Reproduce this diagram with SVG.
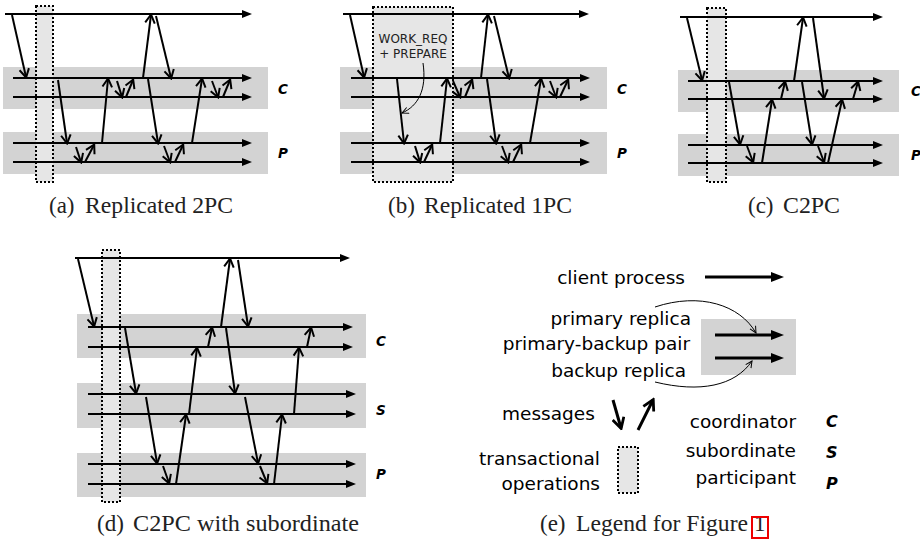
<svg xmlns="http://www.w3.org/2000/svg" width="920" height="543" viewBox="0 0 920 543">
<style>
.band{fill:#d3d3d3}
.ops{fill:#e6e6e6;stroke:#000;stroke-width:2;stroke-dasharray:2 2}
.tl{stroke:#000;stroke-width:2;fill:none;marker-end:url(#tlh)}
.msg{stroke:#000;stroke-width:2;fill:none;marker-end:url(#mh)}
.lbl{font-family:"DejaVu Sans",sans-serif;font-weight:bold;font-style:oblique;font-size:13.5px;fill:#000}
.leg{font-family:"DejaVu Sans",sans-serif;font-size:18.5px;fill:#000}
.cap{font-family:"Liberation Serif","Times New Roman",serif;font-size:23px;fill:#222}
.ann{font-family:"DejaVu Sans",sans-serif;font-size:12px;fill:#222}
.thin{stroke:#000;stroke-width:1;fill:none;marker-end:url(#th)}
.thick{stroke:#000;stroke-width:3;fill:none;marker-end:url(#bigh)}
.tmsg{stroke:#000;stroke-width:3;fill:none;marker-end:url(#bmh)}
</style>
<defs>
<marker id="tlh" viewBox="0 0 10 8" refX="4" refY="4" markerWidth="10" markerHeight="8" markerUnits="userSpaceOnUse" orient="auto"><path d="M0,0 L10,4 L0,8 z" fill="#000"/></marker>
<marker id="mh" viewBox="0 0 12 12" refX="9.5" refY="6" markerWidth="12" markerHeight="12" markerUnits="userSpaceOnUse" orient="auto"><path d="M1.5,1.2 L10,6 L1.5,10.8" fill="none" stroke="#000" stroke-width="2"/></marker>
<marker id="bmh" viewBox="0 0 14 14" refX="11.5" refY="7" markerWidth="14" markerHeight="14" markerUnits="userSpaceOnUse" orient="auto"><path d="M1.5,1.2 L12,7 L1.5,12.8" fill="none" stroke="#000" stroke-width="2.8"/></marker>
<marker id="bigh" viewBox="0 0 13 10" refX="5" refY="5" markerWidth="13" markerHeight="10" markerUnits="userSpaceOnUse" orient="auto"><path d="M0,0 L13,5 L0,10 z" fill="#000"/></marker>
<marker id="th" viewBox="0 0 8 8" refX="7" refY="4" markerWidth="8" markerHeight="8" markerUnits="userSpaceOnUse" orient="auto"><path d="M0.5,0.8 L7,4 L0.5,7.2" fill="none" stroke="#000" stroke-width="1"/></marker>
</defs>

<!-- Panel (a) -->
<g id="panel-a">
<g id="a-coordinator"><rect class="band" x="3" y="67" width="265" height="42"/><text class="lbl" x="278" y="94">C</text></g>
<g id="a-participant"><rect class="band" x="3" y="132" width="265" height="42"/><text class="lbl" x="278" y="158">P</text></g>
<g id="a-ops"><rect class="ops" x="36" y="6" width="17" height="176"/></g>
<g id="a-timelines">
<line class="tl" x1="5" y1="14" x2="246" y2="14"/>
<line class="tl" x1="13" y1="78" x2="246" y2="78"/>
<line class="tl" x1="13" y1="97" x2="246" y2="97"/>
<line class="tl" x1="13" y1="143" x2="246" y2="143"/>
<line class="tl" x1="13" y1="162" x2="246" y2="162"/>
</g>
<g id="a-messages">
<path class="msg" d="M12,15 L26,77"/>
<path class="msg" d="M58,80 L67,143"/>
<path class="msg" d="M76,147 L81,162"/>
<path class="msg" d="M85,162 L94,145"/>
<path class="msg" d="M102,143 L108,79"/>
<path class="msg" d="M117,81 L122,97"/>
<path class="msg" d="M126,97 L133,80"/>
<path class="msg" d="M143,78 L151,15"/>
<path class="msg" d="M156,16 L171,78"/>
<path class="msg" d="M148,79 L158,143"/>
<path class="msg" d="M164,146 L170,162"/>
<path class="msg" d="M175,162 L183,145"/>
<path class="msg" d="M192,143 L202,79"/>
<path class="msg" d="M212,81 L218,97"/>
<path class="msg" d="M223,97 L230,80"/>
</g>
<text class="cap" x="49" y="213">(a)</text><text class="cap" x="85" y="213" textLength="148" lengthAdjust="spacingAndGlyphs">Replicated 2PC</text>
</g>

<!-- Panel (b) -->
<g id="panel-b">
<g id="b-coordinator"><rect class="band" x="340" y="67" width="267" height="42"/><text class="lbl" x="617" y="94">C</text></g>
<g id="b-participant"><rect class="band" x="340" y="132" width="267" height="42"/><text class="lbl" x="617" y="158">P</text></g>
<g id="b-ops"><rect class="ops" x="373" y="7" width="80" height="175"/>
<text class="ann" x="413" y="43" text-anchor="middle">WORK_REQ</text>
<text class="ann" x="413" y="58" text-anchor="middle">+ PREPARE</text></g>
<g id="b-timelines">
<line class="tl" x1="343" y1="14" x2="583" y2="14"/>
<line class="tl" x1="351" y1="78" x2="584" y2="78"/>
<line class="tl" x1="351" y1="97" x2="584" y2="97"/>
<line class="tl" x1="351" y1="143" x2="584" y2="143"/>
<line class="tl" x1="351" y1="162" x2="584" y2="162"/>
</g>
<g id="b-messages">
<path class="msg" d="M350,15 L364,77"/>
<path class="msg" d="M397,79 L404,143"/>
<path class="msg" d="M415,146 L420,162"/>
<path class="msg" d="M424,162 L432,145"/>
<path class="msg" d="M440,143 L447,79"/>
<path class="msg" d="M453,81 L460,97"/>
<path class="msg" d="M465,97 L472,80"/>
<path class="msg" d="M481,78 L488,15"/>
<path class="msg" d="M494,16 L509,78"/>
<path class="msg" d="M487,79 L496,143"/>
<path class="msg" d="M502,146 L508,162"/>
<path class="msg" d="M513,162 L521,145"/>
<path class="msg" d="M530,143 L541,79"/>
<path class="msg" d="M550,81 L556,97"/>
<path class="msg" d="M560,97 L568,80"/>
<path class="thin" d="M423,63 C427,90 418,106 402,113"/>
</g>
<text class="cap" x="388" y="213">(b)</text><text class="cap" x="424" y="213" textLength="148" lengthAdjust="spacingAndGlyphs">Replicated 1PC</text>
</g>

<!-- Panel (c) -->
<g id="panel-c">
<g id="c-coordinator"><rect class="band" x="678" y="70" width="221" height="42"/><text class="lbl" x="911" y="96">C</text></g>
<g id="c-participant"><rect class="band" x="678" y="134" width="221" height="42"/><text class="lbl" x="911" y="160">P</text></g>
<g id="c-ops"><rect class="ops" x="707" y="8" width="19" height="174"/></g>
<g id="c-timelines">
<line class="tl" x1="680" y1="17" x2="877" y2="17"/>
<line class="tl" x1="688" y1="81" x2="877" y2="81"/>
<line class="tl" x1="688" y1="99" x2="877" y2="99"/>
<line class="tl" x1="688" y1="145" x2="877" y2="145"/>
<line class="tl" x1="688" y1="163" x2="877" y2="163"/>
</g>
<g id="c-messages">
<path class="msg" d="M687,18 L702,80"/>
<path class="msg" d="M729,82 L740,144"/>
<path class="msg" d="M747,146 L753,162"/>
<path class="msg" d="M762,163 L772,100"/>
<path class="msg" d="M781,99 L785,82"/>
<path class="msg" d="M794,81 L803,18"/>
<path class="msg" d="M813,18 L824,98"/>
<path class="msg" d="M802,82 L812,144"/>
<path class="msg" d="M818,146 L824,162"/>
<path class="msg" d="M828,163 L842,100"/>
<path class="msg" d="M853,99 L858,82"/>
</g>
<text class="cap" x="748" y="213">(c)</text><text class="cap" x="783" y="213" textLength="57" lengthAdjust="spacingAndGlyphs">C2PC</text>
</g>

<!-- Panel (d) -->
<g id="panel-d">
<g id="d-coordinator"><rect class="band" x="77" y="314" width="289" height="44"/><text class="lbl" x="376" y="346">C</text></g>
<g id="d-subordinate"><rect class="band" x="77" y="383" width="289" height="45"/><text class="lbl" x="376" y="415">S</text></g>
<g id="d-participant"><rect class="band" x="77" y="453" width="289" height="44"/><text class="lbl" x="376" y="479">P</text></g>
<g id="d-ops"><rect class="ops" x="102" y="250" width="18" height="252"/></g>
<g id="d-timelines">
<line class="tl" x1="75" y1="258" x2="344" y2="258"/>
<line class="tl" x1="88" y1="327" x2="347" y2="327"/>
<line class="tl" x1="88" y1="347" x2="347" y2="347"/>
<line class="tl" x1="88" y1="394" x2="350" y2="394"/>
<line class="tl" x1="88" y1="414" x2="350" y2="414"/>
<line class="tl" x1="88" y1="464" x2="350" y2="464"/>
<line class="tl" x1="88" y1="484" x2="350" y2="484"/>
</g>
<g id="d-messages">
<path class="msg" d="M78,259 L94,326"/>
<path class="msg" d="M125,328 L136,393"/>
<path class="msg" d="M146,397 L157,463"/>
<path class="msg" d="M163,466 L169,483"/>
<path class="msg" d="M176,484 L186,415"/>
<path class="msg" d="M189,414 L197,348"/>
<path class="msg" d="M208,347 L212,328"/>
<path class="msg" d="M221,327 L230,259"/>
<path class="msg" d="M238,260 L248,326"/>
<path class="msg" d="M226,328 L235,393"/>
<path class="msg" d="M245,397 L258,463"/>
<path class="msg" d="M260,466 L267,483"/>
<path class="msg" d="M274,484 L282,415"/>
<path class="msg" d="M294,414 L299,348"/>
<path class="msg" d="M307,347 L311,328"/>
</g>
<text class="cap" x="97" y="531">(d)</text><text class="cap" x="133" y="531" textLength="226" lengthAdjust="spacingAndGlyphs">C2PC with subordinate</text>
</g>

<!-- Panel (e) legend -->
<g id="panel-e">
<g id="e-client"><text class="leg" x="685" y="284" text-anchor="end">client process</text>
<line class="thick" x1="705" y1="277" x2="776" y2="277"/></g>
<g id="e-pair"><rect class="band" x="701" y="319" width="95" height="56"/>
<line class="thick" x1="715" y1="335" x2="776" y2="335"/>
<line class="thick" x1="715" y1="358" x2="776" y2="358"/>
<text class="leg" x="691" y="325" text-anchor="end">primary replica</text>
<text class="leg" x="690" y="350" text-anchor="end">primary-backup pair</text>
<text class="leg" x="686" y="377" text-anchor="end">backup replica</text></g>
<g id="e-connectors">
<path class="thin" d="M655,307 C700,292 740,305 756,333"/>
<path class="thin" d="M655,382 C700,393 735,386 752,361"/>
<path class="tmsg" d="M613,400 L621,428"/>
<path class="tmsg" d="M638,430 L653,400"/>
</g>
<g id="e-messages"><text class="leg" x="502" y="420">messages</text></g>
<g id="e-ops"><rect class="ops" x="618" y="447" width="20" height="46"/>
<text class="leg" x="600" y="465" text-anchor="end">transactional</text>
<text class="leg" x="600" y="490" text-anchor="end">operations</text></g>
<g id="e-roles">
<text class="leg" x="796" y="428" text-anchor="end">coordinator</text>
<text class="leg" x="796" y="457" text-anchor="end">subordinate</text>
<text class="leg" x="796" y="484" text-anchor="end">participant</text>
<text class="lbl" x="826" y="427" style="font-size:16px">C</text>
<text class="lbl" x="826" y="458" style="font-size:16px">S</text>
<text class="lbl" x="826" y="489" style="font-size:16px">P</text>
</g>
<text class="cap" x="540" y="531">(e)</text><text class="cap" x="576" y="531" textLength="172" lengthAdjust="spacingAndGlyphs">Legend for Figure</text>
<text class="cap" x="754" y="531">1</text>
<rect x="752" y="517" width="16" height="21" fill="none" stroke="#e00" stroke-width="2"/>
</g>
</svg>
